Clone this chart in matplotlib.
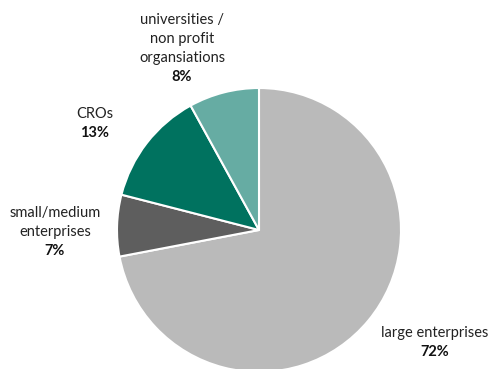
import matplotlib.pyplot as plt

plt.rcParams['font.family'] = ['Lato', 'DejaVu Sans']

categories = ["large enterprises", "small/medium\nenterprises", "CROs",
              "universities /\nnon profit\norgansiations"]
shares = [72, 7, 13, 8]
colors = ["#BABABA", "#5E5E5E", "#00725F", "#66ACA3"]

# first-line centre of each label block (x, y), y measured from top
label_pos = [(435, 333), (55, 213), (95, 114), (182, 20)]

W, H = 492, 369
fig = plt.figure(figsize=(W / 100, H / 100), dpi=100)
ax = fig.add_axes([0, 0, 1, 1])

ax.pie(
    shares,
    colors=colors,
    startangle=90,
    counterclock=False,
    center=(259, H - 230),
    radius=142,
    wedgeprops=dict(edgecolor="white", linewidth=1.5),
    frame=True,
)
ax.set_xlim(0, W)
ax.set_ylim(0, H)
ax.set_aspect("equal")
ax.axis("off")

line_h = 19
for name, val, (x, y) in zip(categories, shares, label_pos):
    lines = name.split("\n") + [f"{val}%"]
    for i, txt in enumerate(lines):
        bold = i == len(lines) - 1
        ax.text(x, H - (y + i * line_h), txt, ha="center", va="center",
                fontsize=10.5, fontweight="bold" if bold else "normal",
                color="#111111" if bold else "#222222")

fig.savefig("out.png", dpi=100)
